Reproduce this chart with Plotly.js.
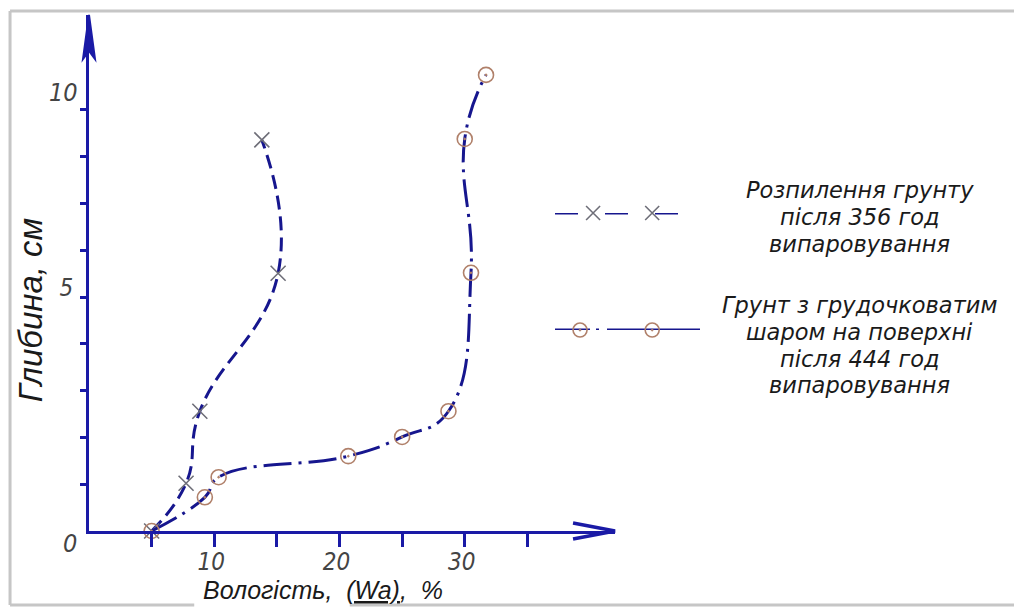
<!DOCTYPE html>
<html>
<head>
<meta charset="utf-8">
<script src="https://cdn.plot.ly/plotly-3.0.1.min.js"></script>
<style>html,body{margin:0;padding:0;background:#fff;}</style>
</head>
<body>
<div id="chart" style="width:1014px;height:609px;"></div>
<script>
// ---- data (moisture %, depth cm) ----
const sprayMoisture = [5.0, 7.75, 8.85, 15.1, 13.8];
const sprayDepth    = [0.0, 1.02, 2.56, 5.51, 8.36];
const crustMoisture = [5.0, 9.25, 10.35, 20.7, 25.0, 28.7, 30.5, 30.0, 31.7];
const crustDepth    = [0.0, 0.72, 1.15, 1.60, 2.01, 2.56, 5.52, 8.38, 9.75];

const seriesNames = ['Розпилення грунту після 356 год випаровування',
                     'Грунт з грудочковатим шаром на поверхні після 444 год випаровування'];
const legendLines1 = ['Розпилення грунту', 'після 356 год', 'випаровування'];
const legendLines2 = ['Грунт з грудочковатим', 'шаром на поверхні', 'після 444 год', 'випаровування'];

const xTickVals = [5, 10, 15, 20, 25, 30, 35];
const xTickText = ['', '10', '', '20', '', '30', ''];
const yTickVals = [1, 2, 3, 4, 5, 6, 7, 8, 9];
const yTickText = ['', '', '', '', '5', '', '', '', ''];
const xTitle = 'Вологість,  <span style="text-decoration:underline">(Wa)</span>,  %';
const yTitle = 'Глибина, см';

// legend sample (auxiliary axes x2/y2)
const legendLineX = [0, 4];
const legendRowY = [1, 0];
const legendMarkX1 = [1.05, 2.68];
const legendMarkX2 = [0.69, 2.68];

// ---- styles ----
const AX = '#1a1aa6';
const CURVE = '#16168e';
const CROSS = '#6e6e78';
const CIRC = '#b0806a';
const TXT = "'Liberation Sans', Arial, sans-serif";
const LEG = "'DejaVu Sans', 'Liberation Sans', sans-serif";
const NARROW = "'Liberation Sans Narrow', 'DejaVu Sans Condensed', 'Liberation Sans', sans-serif";

const X_MAX = 42, Y_MAX = 11.03;
const X_DOMAIN_END = 0.5749;

const traces = [
  {
    x: sprayMoisture, y: sprayDepth, name: seriesNames[0],
    mode: 'lines+markers', cliponaxis: false,
    line: {shape: 'spline', smoothing: 1.3, dash: '14px,7px', width: 3, color: CURVE},
    marker: {symbol: 'x-thin', size: 15, color: CROSS, line: {width: 1.6, color: CROSS}}
  },
  {
    x: crustMoisture, y: crustDepth, name: seriesNames[1],
    mode: 'lines+markers', cliponaxis: false,
    line: {shape: 'spline', smoothing: 1.3, dash: '28px,7px,3px,7px', width: 3, color: CURVE},
    marker: {symbol: 'circle-open-dot', size: 15, color: CIRC, line: {width: 1.6, color: CIRC}}
  },
  // legend samples
  {
    x: legendLineX, y: [legendRowY[0], legendRowY[0]], xaxis: 'x2', yaxis: 'y2',
    mode: 'lines', cliponaxis: false, hoverinfo: 'skip',
    line: {dash: '23px,27px', width: 3, color: CURVE}
  },
  {
    x: legendMarkX1, y: [legendRowY[0], legendRowY[0]], xaxis: 'x2', yaxis: 'y2',
    mode: 'markers', cliponaxis: false, hoverinfo: 'skip',
    marker: {symbol: 'x-thin', size: 14, color: CROSS, line: {width: 1.6, color: CROSS}}
  },
  {
    x: legendLineX, y: [legendRowY[1], legendRowY[1]], xaxis: 'x2', yaxis: 'y2',
    mode: 'lines', cliponaxis: false, hoverinfo: 'skip',
    line: {dash: '35px,6px,3px,8px,200px', width: 3, color: CURVE}
  },
  {
    x: legendMarkX2, y: [legendRowY[1], legendRowY[1]], xaxis: 'x2', yaxis: 'y2',
    mode: 'markers', cliponaxis: false, hoverinfo: 'skip',
    marker: {symbol: 'circle-open-dot', size: 14, color: CIRC, line: {width: 1.6, color: CIRC}}
  }
];

// legend text annotations (one per line, centred)
const annotations = [];
const LINE_STEP = 26.8;
const LEG_FONT = {family: LEG, size: 22.5, color: '#1a1a1a', style: 'italic'};
legendLines1.forEach((t, i) => annotations.push({
  text: t, xref: 'paper', yref: 'y2', x: 0.8426, y: legendRowY[0], yshift: 23 - i * LINE_STEP,
  xanchor: 'center', yanchor: 'middle', showarrow: false, font: LEG_FONT
}));
legendLines2.forEach((t, i) => annotations.push({
  text: t, xref: 'paper', yref: 'y2', x: 0.8426, y: legendRowY[1], yshift: 25 - i * LINE_STEP,
  xanchor: 'center', yanchor: 'middle', showarrow: false, font: LEG_FONT
}));
// axis titles
annotations.push({
  text: xTitle, xref: 'paper', yref: 'paper', x: 0.2557, y: -0.1143,
  xanchor: 'center', yanchor: 'middle', showarrow: false,
  font: {family: TXT, size: 25, color: '#1a1a1a', style: 'italic'}
});
annotations.push({
  text: yTitle, xref: 'paper', yref: 'paper', x: -0.0645, y: 0.428, textangle: -90,
  xanchor: 'center', yanchor: 'middle', showarrow: false,
  font: {family: TXT, size: 33, color: '#1a1a1a', style: 'italic'}
});
// extra axis labels "0" and "10" as placed in the drawing
annotations.push({
  text: '0', xref: 'paper', yref: 'paper', x: -0.0208, y: -0.0233,
  xanchor: 'center', yanchor: 'middle', showarrow: false,
  font: {family: NARROW, size: 25, color: '#444', style: 'italic'}
});
annotations.push({
  text: '10', xref: 'paper', yref: 'paper', x: -0.0284, y: 0.849,
  xanchor: 'center', yanchor: 'middle', showarrow: false,
  font: {family: NARROW, size: 25, color: '#444', style: 'italic'}
});

const BORDER = '#c6c6c6';
const shapes = [
  // frame around the drawing
  {type: 'line', xref: 'paper', yref: 'paper', x0: -0.0863, x1: 1.03, y0: 1.0078, y1: 1.0078, line: {color: BORDER, width: 3}},
  {type: 'line', xref: 'paper', yref: 'paper', x0: -0.0863, x1: -0.0863, y0: 1.0078, y1: -0.1434, line: {color: BORDER, width: 3}},
  {type: 'line', xref: 'paper', yref: 'paper', x0: -0.0863, x1: 0.115, y0: -0.1434, y1: -0.1434, line: {color: BORDER, width: 3}},
  {type: 'line', xref: 'paper', yref: 'paper', x0: 0.285, x1: 1.03, y0: -0.1434, y1: -0.1434, line: {color: BORDER, width: 3}},
  // arrow heads on axes (paper-anchored, so they are not clipped)
  {type: 'path', xref: 'paper', yref: 'paper', xsizemode: 'pixel', ysizemode: 'pixel', xanchor: X_DOMAIN_END, yanchor: 0,
   path: 'M-42,8 L0,0 L-42,-8', line: {color: AX, width: 3.5}},
  {type: 'path', xref: 'paper', yref: 'paper', xsizemode: 'pixel', ysizemode: 'pixel', xanchor: 0, yanchor: 1,
   path: 'M0,0 L-6,-44 L0,-36 L6,-44 Z', fillcolor: AX, line: {color: AX, width: 2}}
];

const tickFont = {family: NARROW, size: 24, color: '#444', style: 'italic'};

const layout = {
  width: 1014, height: 609,
  margin: {l: 89, r: 10, t: 15, b: 78, pad: 0},
  paper_bgcolor: '#ffffff', plot_bgcolor: '#ffffff',
  showlegend: false,
  xaxis: {
    domain: [0, X_DOMAIN_END], range: [0, X_MAX], anchor: 'y',
    showline: true, linecolor: AX, linewidth: 3, mirror: false,
    showgrid: false, zeroline: false,
    ticks: 'outside', ticklen: 13, tickwidth: 3, tickcolor: AX,
    tickmode: 'array', tickvals: xTickVals, ticktext: xTickText,
    tickfont: tickFont, ticklabelstandoff: -6, ticklabelshift: -3, fixedrange: true
  },
  yaxis: {
    domain: [0, 1], range: [0, Y_MAX], anchor: 'x',
    showline: true, linecolor: AX, linewidth: 3,
    showgrid: false, zeroline: false,
    ticks: 'outside', ticklen: 6, tickwidth: 3, tickcolor: AX,
    tickmode: 'array', tickvals: yTickVals, ticktext: yTickText,
    tickfont: tickFont, ticklabelstandoff: 2, ticklabelshift: -9, fixedrange: true
  },
  xaxis2: {domain: [0.5093, 0.6678], range: [0, 4], anchor: 'y2', visible: false, fixedrange: true},
  yaxis2: {domain: [0.3895, 0.6163], range: [0, 1], anchor: 'x2', visible: false, fixedrange: true},
  annotations: annotations,
  shapes: shapes
};

Plotly.newPlot('chart', traces, layout, {displayModeBar: false, staticPlot: true});
</script>
</body>
</html>
